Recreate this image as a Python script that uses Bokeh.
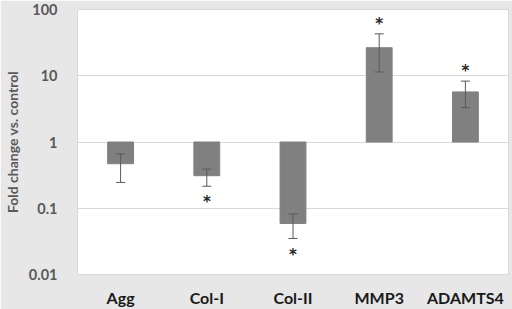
from bokeh.plotting import figure
from bokeh.models import ColumnDataSource, Whisker, TeeHead, FixedTicker, CustomJSTickFormatter
from bokeh.core.properties import value
from bokeh.embed import file_html
from bokeh.resources import INLINE

genes = ["Agg", "Col-I", "Col-II", "MMP3", "ADAMTS4"]
fold = [0.47, 0.31, 0.059, 26.5, 5.7]
err_low = [0.245, 0.215, 0.035, 11.4, 3.3]
err_high = [0.66, 0.39, 0.082, 42.9, 8.3]
significant = [False, True, True, True, True]
y_ticks = [0.01, 0.1, 1, 10, 100]

BG = "#e7e7e7"
FONT = "Lato"

p = figure(x_range=genes, y_range=(0.01, 100), y_axis_type="log",
           frame_width=431, frame_height=265, output_backend="svg", toolbar_location=None,
           min_border_left=77, min_border_right=4, min_border_top=9, min_border_bottom=20,
           background_fill_color="white", border_fill_color=BG)
p.outline_line_color = "#d9d9d9"

src = ColumnDataSource(dict(x=genes, top=fold, lower=err_low, upper=err_high))
p.vbar(x="x", top="top", bottom=1, width=0.3, source=src,
       fill_color="#808080", line_color="#808080")

w = Whisker(source=src, base="x", lower="lower", upper="upper", level="overlay",
            line_color="#595959", line_width=1,
            upper_head=TeeHead(size=9, line_color="#595959", line_width=1),
            lower_head=TeeHead(size=9, line_color="#595959", line_width=1))
p.add_layout(w)

# significance stars placed beyond the error bar end (about 13 px)
shift = 10 ** (13 / 66.0)
sx, sy = [], []
for g, v, lo, hi, s in zip(genes, fold, err_low, err_high, significant):
    if s:
        sx.append(g)
        sy.append(hi * shift if v > 1 else lo / shift)
p.text(x=sx, y=sy, text=["*"] * len(sx), text_align="center", text_baseline="middle",
       text_font=value("DejaVu Sans"), text_font_size="15px", text_font_style="bold",
       text_color="#262626", y_offset=3)

p.yaxis.ticker = FixedTicker(ticks=y_ticks)
p.ygrid.ticker = FixedTicker(ticks=y_ticks)
p.yaxis.formatter = CustomJSTickFormatter(code="return String(tick)")
p.ygrid.grid_line_color = "#d9d9d9"
p.xgrid.grid_line_color = None

for ax in (p.xaxis, p.yaxis):
    ax.axis_line_color = None
    ax.major_tick_line_color = None
    ax.minor_tick_line_color = None

p.yaxis.major_label_text_font = FONT
p.yaxis.major_label_text_font_style = "bold"
p.yaxis.major_label_text_font_size = "14.5px"
p.yaxis.major_label_text_color = "#595959"
p.yaxis.major_label_standoff = 14
p.yaxis.axis_label = "Fold change vs. control"
p.yaxis.axis_label_text_font = FONT
p.yaxis.axis_label_text_font_style = "bold"
p.yaxis.axis_label_text_font_size = "14px"
p.yaxis.axis_label_text_color = "#595959"
p.yaxis.axis_label_standoff = 5

p.xaxis.major_label_text_font = FONT
p.xaxis.major_label_text_font_style = "bold"
p.xaxis.major_label_text_font_size = "16px"
p.xaxis.major_label_text_color = "#1a1a1a"
p.xaxis.major_label_standoff = 7

html = file_html(p, INLINE)
html = html.replace("<head>", "<head><style>body{margin:0;background:white;}</style>", 1)
open("out.html", "w").write(html)
